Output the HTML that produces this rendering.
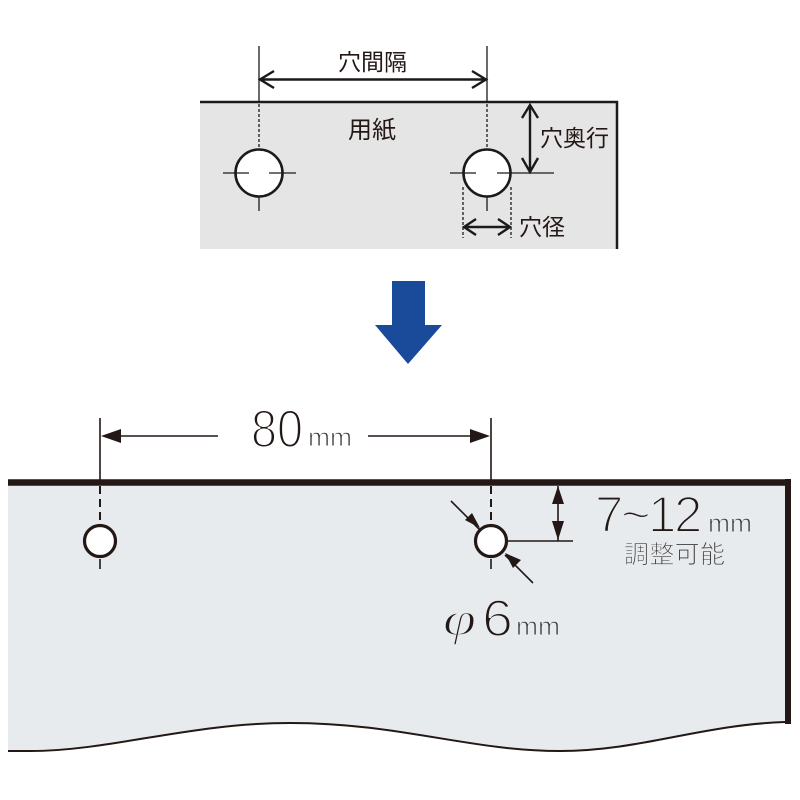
<!DOCTYPE html>
<html><head><meta charset="utf-8"><style>
html,body{margin:0;padding:0;background:#fff}
svg{display:block}
text{font-family:"Liberation Sans","Noto Sans CJK JP",sans-serif}
.t{fill:#231815;font-size:23px}
.b{fill:#231815;stroke:#fff;stroke-width:2px}
.g{fill:#231815;stroke:#e7ebee;stroke-width:2px}
.p{fill:#231815;stroke:#e7ebee;stroke-width:1.400px}
.m{fill:#3a3634;stroke:#fff;stroke-width:.9px}
.mg{fill:#3a3634;stroke:#e7ebee;stroke-width:.9px}
</style></head><body>
<svg width="800" height="800" viewBox="0 0 800 800" xmlns="http://www.w3.org/2000/svg">
<!-- top panel -->
<rect x="200" y="102" width="417" height="147" fill="#e5e5e5"/>
<path d="M200 102H617V249" fill="none" stroke="#1c1a19" stroke-width="2.500"/>
<g stroke="#1c1a19" fill="none">
<path d="M259 46V102M487 46V102" stroke-width="1.300"/>
<path d="M259 104V148M487 104V148M463 187V238M511 187V238" stroke-width="1.300" stroke-dasharray="3 2"/>
<circle cx="259" cy="173" r="23.500" fill="#fff" stroke-width="2.600"/>
<circle cx="487" cy="173" r="23.500" fill="#fff" stroke-width="2.600"/>
<path d="M223 173H249M269 173H296M259 197V211M450 173H476M497 173H554M487 197V211" stroke-width="1.300"/>
<path d="M260 79.500H486M274 71L260 79.500L274 88M472 71L486 79.500L472 88" stroke-width="2.400"/>
<path d="M530 105V172M522 118L530 105L538 118M522 158L530 172L538 158" stroke-width="2.400"/>
<path d="M464 227H510M476 219L464 227L476 235M498 219L510 227L498 235" stroke-width="2.400"/>
</g>
<text class="t" x="338" y="70">穴間隔</text>
<text class="t" x="348" y="138" style="font-size:24px">用紙</text>
<text class="t" x="540" y="146">穴奥行</text>
<text class="t" x="519" y="235">穴径</text>
<!-- blue arrow -->
<path d="M392 281H425V325H442L408 364L375 325H392Z" fill="#1a4b9b"/>
<!-- bottom panel -->
<path d="M8 482H788V722C700 725 640 751 560 751C470 751 400 723 290 723C190 723 110 751 30 751H8Z" fill="#e7ebee"/>
<path d="M8 751H30C110 751 190 723 290 723C400 723 470 751 560 751C640 751 700 725 785 722" fill="none" stroke="#231815" stroke-width="2"/>
<path d="M8 482.500H791" stroke="#231815" stroke-width="6.500"/>
<path d="M788 479V724" stroke="#231815" stroke-width="6"/>
<g stroke="#231815" fill="none">
<path d="M100 418V480M491 418V480" stroke-width="1.600"/>
<path d="M100 486V522M491 486V522" stroke-width="2" stroke-dasharray="8 5"/>
<path d="M100 559V569M491 559V569" stroke-width="1.600"/>
<circle cx="100" cy="541" r="15.500" fill="#fff" stroke-width="3.200"/>
<circle cx="491" cy="541" r="15.500" fill="#fff" stroke-width="3.200"/>
<path d="M118 436H218M368 436H475M508 541H573M558 486V541M451 501L480 530M533 583L505 555" stroke-width="1.600"/>
</g>
<g fill="#231815">
<path d="M101 436L121 429V443Z"/>
<path d="M490 436L470 429V443Z"/>
<path d="M558 486L552 504H564Z"/>
<path d="M558 540L552 521H564Z"/>
<path d="M480 528L465 520L472 513Z"/>
<path d="M505 553L521 560L513 568Z"/>
</g>
<text class="b" x="251" y="447" style="font-size:53px" textLength="52" lengthAdjust="spacingAndGlyphs">80</text>
<text class="m" x="308" y="446" style="font-size:26px" textLength="44" lengthAdjust="spacingAndGlyphs">mm</text>
<text class="g" x="595 621 648 674" y="532" style="font-size:51px">7~12</text>
<text class="mg" x="708" y="532" style="font-size:26px" textLength="44" lengthAdjust="spacingAndGlyphs">mm</text>
<text class="mg" x="624" y="563" style="font-size:25px" textLength="101">調整可能</text>
<text class="p" x="443" y="635" style="font-size:48px;font-style:italic;font-family:'Liberation Serif',serif" textLength="33" lengthAdjust="spacingAndGlyphs">φ</text>
<text class="g" x="482" y="636" style="font-size:52px" textLength="31" lengthAdjust="spacingAndGlyphs">6</text>
<text class="mg" x="516" y="635" style="font-size:26px" textLength="44" lengthAdjust="spacingAndGlyphs">mm</text>
</svg>
</body></html>
